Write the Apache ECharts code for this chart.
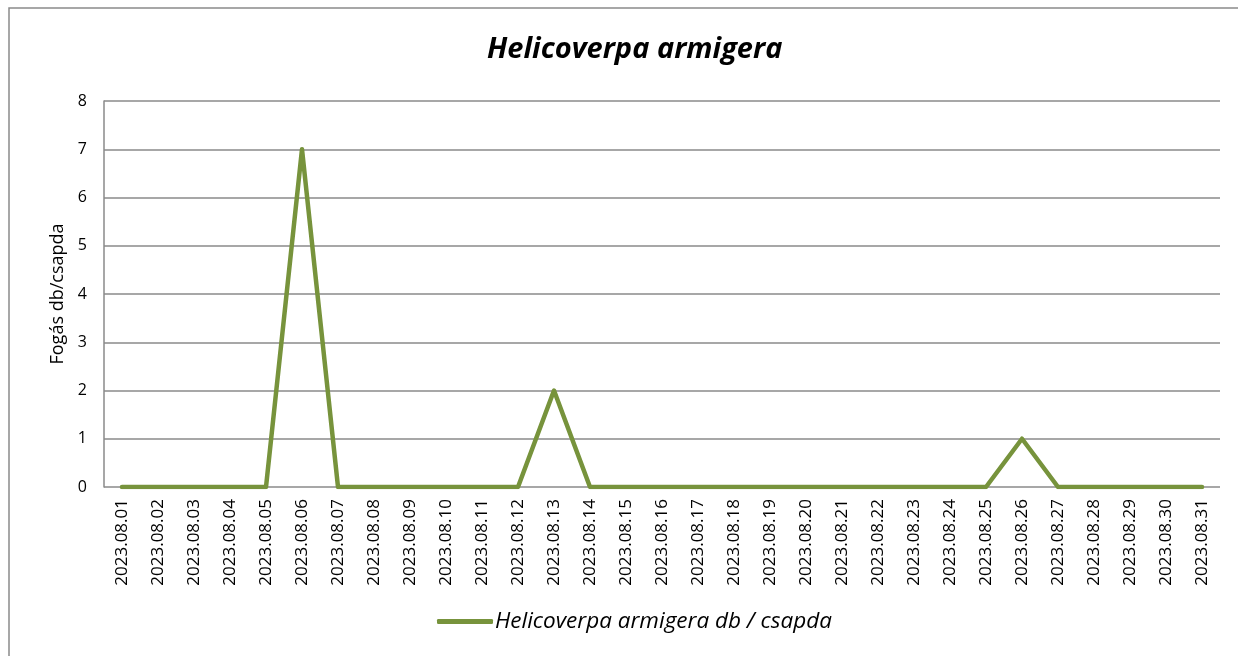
<!DOCTYPE html>
<html><head><meta charset="utf-8">
<script src="https://cdn.jsdelivr.net/npm/echarts@6/dist/echarts.min.js"></script>
<style>html,body{margin:0;padding:0;background:#fff}#c{width:1238px;height:656px}</style>
</head><body><div id="c"></div>
<script>
const categories = ['2023.08.01','2023.08.02','2023.08.03','2023.08.04','2023.08.05','2023.08.06','2023.08.07','2023.08.08','2023.08.09','2023.08.10','2023.08.11','2023.08.12','2023.08.13','2023.08.14','2023.08.15','2023.08.16','2023.08.17','2023.08.18','2023.08.19','2023.08.20','2023.08.21','2023.08.22','2023.08.23','2023.08.24','2023.08.25','2023.08.26','2023.08.27','2023.08.28','2023.08.29','2023.08.30','2023.08.31'];
const values = [0,0,0,0,0,7,0,0,0,0,0,0,2,0,0,0,0,0,0,0,0,0,0,0,0,1,0,0,0,0,0];
const seriesName = 'Helicoverpa armigera db / csapda';
const titleText = 'Helicoverpa armigera';
const yName = 'Fogás db/csapda';
const F = 'Open Sans';

const chart = echarts.init(document.getElementById('c'));
chart.setOption({
  animation: false,
  graphic: [{type:'rect', shape:{x:9, y:8, width:1240, height:660}, style:{fill:'none', stroke:'#8a8a8a', lineWidth:1.5}}],
  title: {text: titleText, left: 482, top: 30, textStyle:{fontFamily:F, fontStyle:'italic', fontWeight:'bold', fontSize:29, color:'#000'}},
  grid: {left: 104, right: 18, top: 101, bottom: 169, containLabel: false},
  legend: {bottom: 18, left: 432, itemWidth: 56, itemHeight: 5, icon: 'roundRect', itemGap: 10,
    textStyle:{fontFamily:F, fontStyle:'italic', fontSize:22.5, color:'#000', padding:[0,0,0,-3]}, data:[seriesName]},
  xAxis: {type:'category', data: categories, boundaryGap: true,
    axisLine:{show:false}, axisTick:{show:false},
    axisLabel:{rotate:90, interval:0, fontFamily:F, fontSize:17, color:'#000', margin:12}},
  yAxis: {type:'value', min:0, max:8, interval:1, name: yName, nameLocation:'middle', nameGap: 37,
    nameTextStyle:{fontFamily:F, fontSize:18, color:'#000'},
    axisLine:{show:true, lineStyle:{color:'#8a8a8a', width:1.5}}, axisTick:{show:false},
    axisLabel:{fontFamily:F, fontSize:16, color:'#000', margin:17},
    splitLine:{lineStyle:{color:'#8a8a8a', width:1.5}}},
  series: [{name: seriesName, type:'line', data: values, symbol:'none',
    lineStyle:{color:'#77933C', width:4.5, cap:'round', join:'round'}, itemStyle:{color:'#77933C'}}]
});
</script></body></html>
